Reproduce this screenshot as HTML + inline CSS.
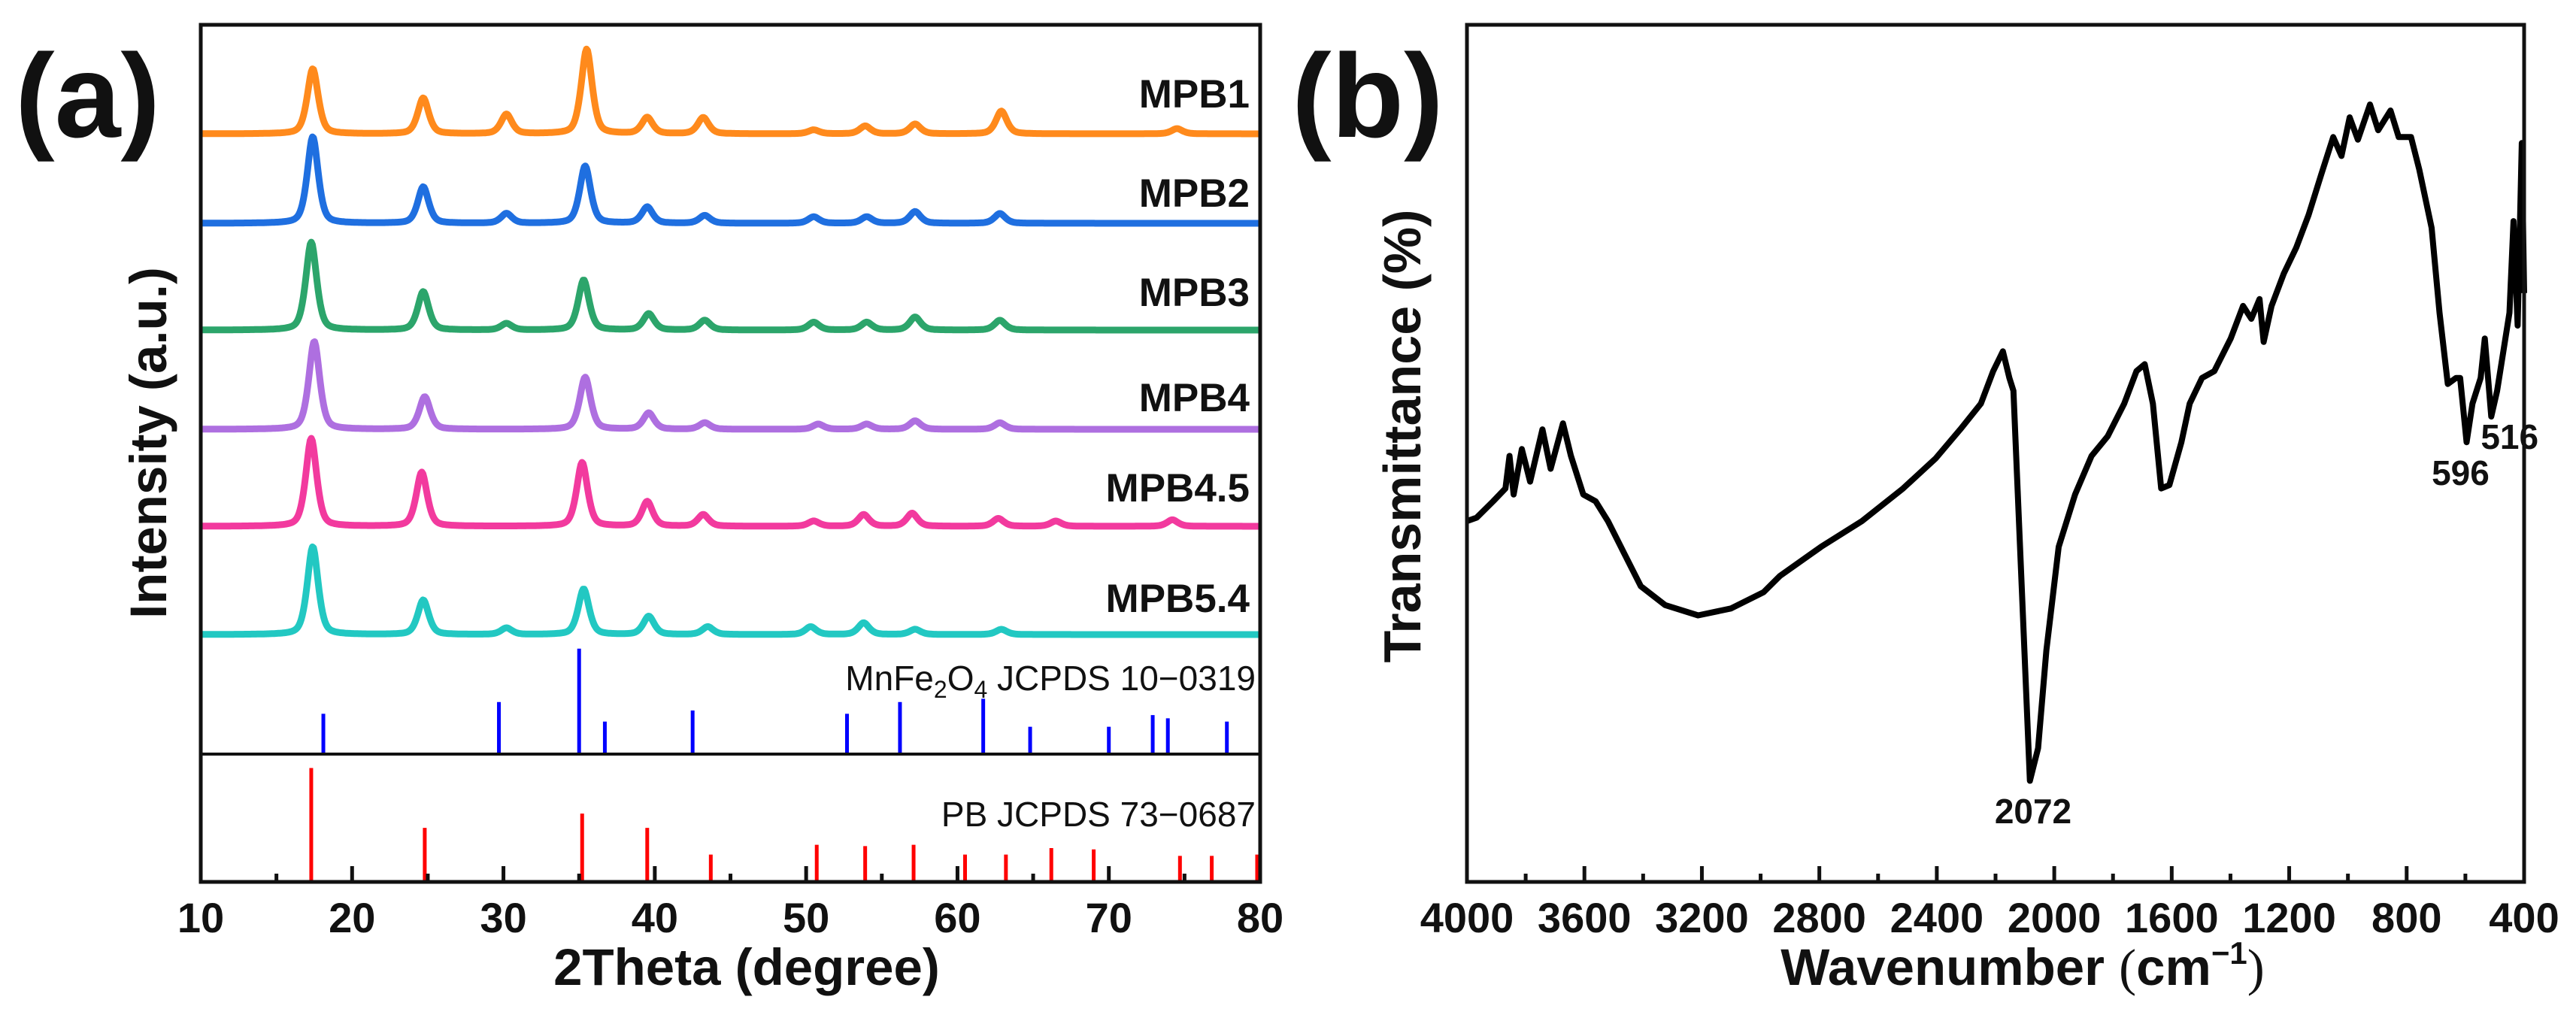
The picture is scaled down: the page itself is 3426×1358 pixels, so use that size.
<!DOCTYPE html>
<html><head><meta charset="utf-8"><style>
html,body{margin:0;padding:0;background:#fff;}
svg{display:block;font-family:"Liberation Sans",Arial,sans-serif;}
</style></head><body>
<svg id="fig" width="3426" height="1358" viewBox="0 0 3426 1358" xmlns="http://www.w3.org/2000/svg">
<rect width="3426" height="1358" fill="#fff"/>
<g id="pa"></g>
<g id="pb"></g>
</svg>
<script>
// ---------- Panel (a) XRD data ----------
const xrdSamples = ["MPB1","MPB2","MPB3","MPB4","MPB4.5","MPB5.4"];
const xrdColors = ["#ff8a1c","#1f6fe0","#2ca56b","#ae6fe0","#f23a9e","#22c8c2"];
const peaksMPB1 = [[17.4,100],[24.7,55],[30.2,30],[35.5,130],[39.5,25],[43.2,25],[50.5,6],[53.9,12],[57.2,15],[62.9,35],[74.5,8]];
const peaksMPB2 = [[17.4,133],[24.7,56],[30.2,15],[35.4,88],[39.5,25],[43.3,12],[50.5,10],[54.0,10],[57.2,18],[62.8,15]];
const peaksMPB3 = [[17.3,135],[24.7,59],[30.2,10],[35.3,77],[39.6,25],[43.3,15],[50.5,12],[54.0,12],[57.2,20],[62.8,15]];
const peaksMPB4 = [[17.5,135],[24.8,50],[35.4,80],[39.6,25],[43.3,10],[50.8,8],[54.0,8],[57.2,13],[62.8,10]];
const peaksMPB45 = [[17.3,135],[24.6,83],[35.2,98],[39.5,38],[43.2,18],[50.5,8],[53.8,18],[57.0,20],[62.7,12],[66.5,8],[74.2,10]];
const peaksMPB54 = [[17.4,135],[24.7,53],[30.2,10],[35.3,70],[39.6,28],[43.5,12],[50.3,12],[53.8,18],[57.2,8],[62.9,8]];
const xrdPeaks = [peaksMPB1,peaksMPB2,peaksMPB3,peaksMPB4,peaksMPB45,peaksMPB54];
const mnfePos = [18.1,29.7,35.0,36.7,42.5,52.7,56.2,61.7,64.8,70.0,72.9,73.9,77.8];
const mnfeInt = [62,80,162,50,67,62,80,85,42,42,60,55,50];
const pbPos = [17.3,24.8,35.2,39.5,43.7,50.7,53.9,57.1,60.5,63.2,66.2,69.0,74.7,76.8,79.8];
const pbInt = [175,83,105,83,42,57,55,57,42,42,52,50,40,40,42];
const xTicksA = [10,20,30,40,50,60,70,80];

// ---------- Panel (b) FTIR data ----------
const ftirWave = [4000,3967,3911,3869,3855,3841,3813,3785,3743,3715,3673,3646,3604,3562,3520,3464,3408,3325,3213,3101,2990,2934,2794,2655,2515,2404,2320,2250,2208,2175,2153,2139,2111,2083,2055,2027,1985,1929,1873,1818,1762,1720,1692,1664,1636,1608,1567,1539,1497,1455,1399,1357,1329,1301,1287,1260,1218,1176,1134,1092,1050,1022,994,966,925,897,855,827,785,757,715,688,660,632,618,596,576,548,534,512,492,450,436,422,408,400];
const ftirT = [42.1,42.5,44.4,45.9,49.7,45.2,50.5,46.7,52.8,48.2,53.5,49.7,45.2,44.4,42.1,38.3,34.5,32.3,31.1,31.9,33.8,35.7,39.1,42.1,45.9,49.4,52.8,55.8,59.6,61.9,58.8,57.3,34.5,11.8,15.6,27.0,39.1,45.2,49.7,52.0,55.8,59.6,60.4,55.8,45.9,46.3,51.3,55.8,58.8,59.6,63.4,67.2,65.7,68.0,63.0,67.2,71.0,74.0,77.8,82.4,86.9,84.7,89.2,86.6,90.7,87.7,90.0,86.9,86.9,83.1,76.3,66.4,58.1,58.8,58.8,51.3,55.8,58.8,63.4,54.3,57.3,66.4,77.1,64.9,86.2,68.7];
const xTicksB = [4000,3600,3200,2800,2400,2000,1600,1200,800,400];
const annotWave = [2072,596,516];
const annotText = ["2072","596","516"];

const NS="http://www.w3.org/2000/svg";
function mk(tag, parent, attrs){const e=document.createElementNS(NS,tag);for(const k in attrs)e.setAttribute(k,attrs[k]);parent.appendChild(e);return e;}
const TICKY=1240, TITLEY=1310;

// ===== Panel A =====
const A={l:267,r:1676,t:33,b:1173,div:1003};
const xA=v=>A.l+(v-10)/70*(A.r-A.l);
const ppu=0.8656;
const pa=document.getElementById('pa');
const baseA=[178,297,439,571,700,844];
const lblA=[143,275,407,547,667,814];
xrdSamples.forEach((name,i)=>{
  const pk=xrdPeaks[i];
  let d="";
  for(let px=A.l;px<=A.r;px+=1.5){
    const tt=10+(px-A.l)/(A.r-A.l)*70;
    let I=0;
    pk.forEach(([c,h])=>{const w=0.38;const g=Math.exp(-Math.pow((tt-c)/(w*1.2),2)*0.693);const lz=1/(1+Math.pow((tt-c)/w,2));I+=h*(0.5*g+0.5*lz);});
    const y=baseA[i]-I*ppu;
    d+=(d?"L":"M")+px.toFixed(1)+","+y.toFixed(1);
  }
  const p=mk('path',pa,{d:d,fill:'none',stroke:xrdColors[i],'stroke-width':9,'stroke-linejoin':'round'});
  
  
  const t=mk('text',pa,{x:1662,y:lblA[i],'text-anchor':'end','font-size':53,'font-weight':'bold',fill:'#111'});
  t.textContent=name;
  
  
});
mnfePos.forEach((v,i)=>{
  const l=mk('line',pa,{x1:xA(v),x2:xA(v),y1:A.div,y2:A.div-mnfeInt[i]*ppu,stroke:'#0000ff','stroke-width':5});
  
  
});
pbInt.forEach((h,i)=>{
  const l=mk('line',pa,{x1:xA(pbPos[i]),x2:xA(pbPos[i]),y1:A.b,y2:A.b-h*ppu,stroke:'#ff0000','stroke-width':5});
  
  
});
let tm=mk('text',pa,{x:1670,y:918,'text-anchor':'end','font-size':46,fill:'#111'});
tm.innerHTML='MnFe<tspan font-size="32" dy="10">2</tspan><tspan dy="-10">O</tspan><tspan font-size="32" dy="10">4</tspan><tspan dy="-10"> JCPDS 10&#8722;0319</tspan>';


let tp=mk('text',pa,{x:1670,y:1099,'text-anchor':'end','font-size':46,fill:'#111'});
tp.textContent='PB JCPDS 73\u22120687';


let dv=mk('line',pa,{x1:A.l,x2:A.r,y1:A.div,y2:A.div,stroke:'#111','stroke-width':4});


let fa=mk('rect',pa,{x:A.l,y:A.t,width:A.r-A.l,height:A.b-A.t,fill:'none',stroke:'#111','stroke-width':5});


for(let v=15;v<80;v+=10){const l=mk('line',pa,{x1:xA(v),x2:xA(v),y1:A.b,y2:A.b-11,stroke:'#111','stroke-width':5});}
xTicksA.forEach(v=>{
  const l=mk('line',pa,{x1:xA(v),x2:xA(v),y1:A.b,y2:A.b-21,stroke:'#111','stroke-width':5});
  
  
  const t=mk('text',pa,{x:xA(v),y:TICKY,'text-anchor':'middle','font-size':56,'font-weight':'bold',fill:'#111'});
  t.textContent=v;
  
  
});
let xta=mk('text',pa,{x:993,y:TITLEY,'text-anchor':'middle','font-size':69,'font-weight':'bold',fill:'#111'});
xta.textContent='2Theta (degree)';


let yta=mk('text',pa,{x:0,y:0,transform:'translate(221,589) rotate(-90)','text-anchor':'middle','font-size':69,'font-weight':'bold',fill:'#111'});
yta.textContent='Intensity (a.u.)';


let la=mk('text',pa,{x:20,y:182,'font-size':158,'font-weight':'bold',fill:'#111'});
la.textContent='(a)';



// ===== Panel B =====
const B={l:1951,r:3357,t:33,b:1173};
const xB=w=>B.l+(4000-w)/3600*(B.r-B.l);
const yB=T=>B.b-T/100*(B.b-B.t);
const pb=document.getElementById('pb');
let db="";
ftirWave.forEach((w,i)=>{db+=(i?"L":"M")+xB(w).toFixed(1)+","+yB(ftirT[i]).toFixed(1);});
let fc=mk('path',pb,{d:db,fill:'none',stroke:'#000','stroke-width':8,'stroke-linejoin':'round'});


let fb=mk('rect',pb,{x:B.l,y:B.t,width:B.r-B.l,height:B.b-B.t,fill:'none',stroke:'#111','stroke-width':5});


for(let w=3800;w>400;w-=400){const l=mk('line',pb,{x1:xB(w),x2:xB(w),y1:B.b,y2:B.b-11,stroke:'#111','stroke-width':5});}
xTicksB.forEach(w=>{
  const l=mk('line',pb,{x1:xB(w),x2:xB(w),y1:B.b,y2:B.b-21,stroke:'#111','stroke-width':5});
  
  
  const t=mk('text',pb,{x:xB(w),y:TICKY,'text-anchor':'middle','font-size':56,'font-weight':'bold',fill:'#111'});
  t.textContent=w;
  
  
});
const annY=[1095,645,597];
const annDx=[0,-8,26];
annotWave.forEach((w,i)=>{
  const t=mk('text',pb,{x:xB(w)+annDx[i],y:annY[i],'text-anchor':'middle','font-size':46,'font-weight':'bold',fill:'#111'});
  t.textContent=annotText[i];
  
  
});
let xtb=mk('text',pb,{x:2690,y:TITLEY,'text-anchor':'middle','font-size':69,'font-weight':'bold',fill:'#111'});
xtb.innerHTML='Wavenumber <tspan font-family="Liberation Serif" font-weight="normal">(</tspan>cm<tspan font-size="42" dy="-28">&#8722;1</tspan><tspan dy="28" font-family="Liberation Serif" font-weight="normal">)</tspan>';


let ytb=mk('text',pb,{x:0,y:0,transform:'translate(1889,580) rotate(-90)','text-anchor':'middle','font-size':70,'font-weight':'bold',fill:'#111'});
ytb.textContent='Transmittance (%)';


let lb=mk('text',pb,{x:1718,y:182,'font-size':158,'font-weight':'bold',fill:'#111'});
lb.textContent='(b)';


</script>
</body></html>
